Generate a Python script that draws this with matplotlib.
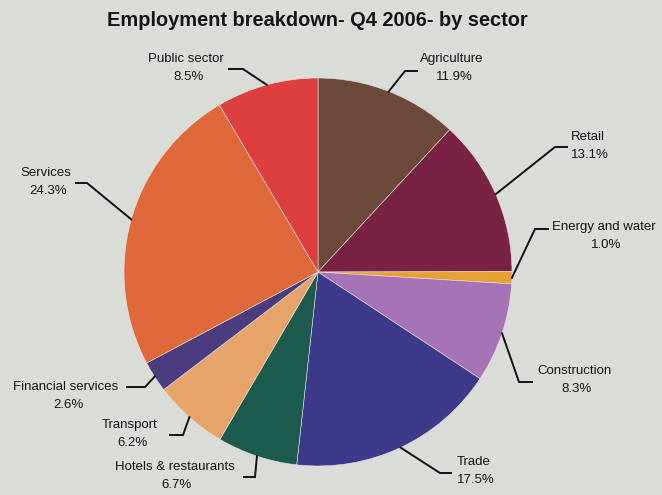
import numpy as np
import matplotlib
matplotlib.use("Agg")
import matplotlib.pyplot as plt

plt.rcParams["font.family"] = ["Liberation Sans", "DejaVu Sans"]

# employment share by sector, clockwise from 12 o'clock
sectors = ["Agriculture", "Retail", "Energy and water", "Construction", "Trade",
           "Hotels & restaurants", "Transport", "Financial services", "Services",
           "Public sector"]
shares = [11.9, 13.1, 1.0, 8.3, 17.5, 6.7, 6.2, 2.6, 24.3, 8.5]
colors = ["#6c4a3b", "#7a2243", "#e6a133", "#a673b6", "#3d3a8b",
          "#1d5b4f", "#e6a46b", "#4b3b7f", "#df683b", "#dd3e3f"]

# label layout in pixels from the top-left: elbow, end of leader, text centre
label_layout = {
    "Agriculture": ((405, 71), 417, (452, 59)),
    "Retail": ((555, 147), 567, (588, 137)),
    "Energy and water": ((535, 229), 548, (604, 227)),
    "Construction": ((519, 382), 532, (574, 371)),
    "Trade": ((440, 473), 451, (474, 462)),
    "Hotels & restaurants": ((255, 477), 244, (175, 467)),
    "Transport": ((183, 435), 170, (130, 425)),
    "Financial services": ((145, 387), 127, (66, 387)),
    "Services": ((87, 183), 76, (46, 173)),
    "Public sector": ((243, 69), 229, (186, 59)),
}

W, H = 662, 495
BG = "#d9dcd7"

fig = plt.figure(figsize=(W / 100, H / 100), dpi=100, facecolor=BG)
ax = fig.add_axes([0, 0, 1, 1])
ax.set_facecolor(BG)


def fy(y):
    return H - y


cx, cy, r = 318, fy(272), 194
wedges, _ = ax.pie(shares, colors=colors, startangle=90, counterclock=False,
                   center=(cx, cy), radius=r, frame=True,
                   wedgeprops=dict(edgecolor="#efe2da", linewidth=0.4))
ax.set_xlim(0, W)
ax.set_ylim(0, H)
ax.axis("off")

for w, name, val in zip(wedges, sectors, shares):
    mid = np.deg2rad((w.theta1 + w.theta2) / 2)
    sx, sy = cx + r * np.cos(mid), cy + r * np.sin(mid)
    (ex, ey), end_x, (tx, ty) = label_layout[name]
    ax.plot([sx, ex, end_x], [sy, fy(ey), fy(ey)], color="#111111", lw=1.4,
            solid_joinstyle="miter")
    ax.text(tx, fy(ty), name, ha="center", va="center", fontsize=9.5,
            color="#151515")
    ax.text(tx + 2, fy(ty + 18), f"{val:.1f}%", ha="center", va="center",
            fontsize=9.5, color="#151515")

ax.text(317, fy(21), "Employment breakdown- Q4 2006- by sector", ha="center",
        va="center", fontsize=14.4, fontweight="bold", color="#151515")

fig.savefig("out.png", dpi=100, facecolor=BG)
